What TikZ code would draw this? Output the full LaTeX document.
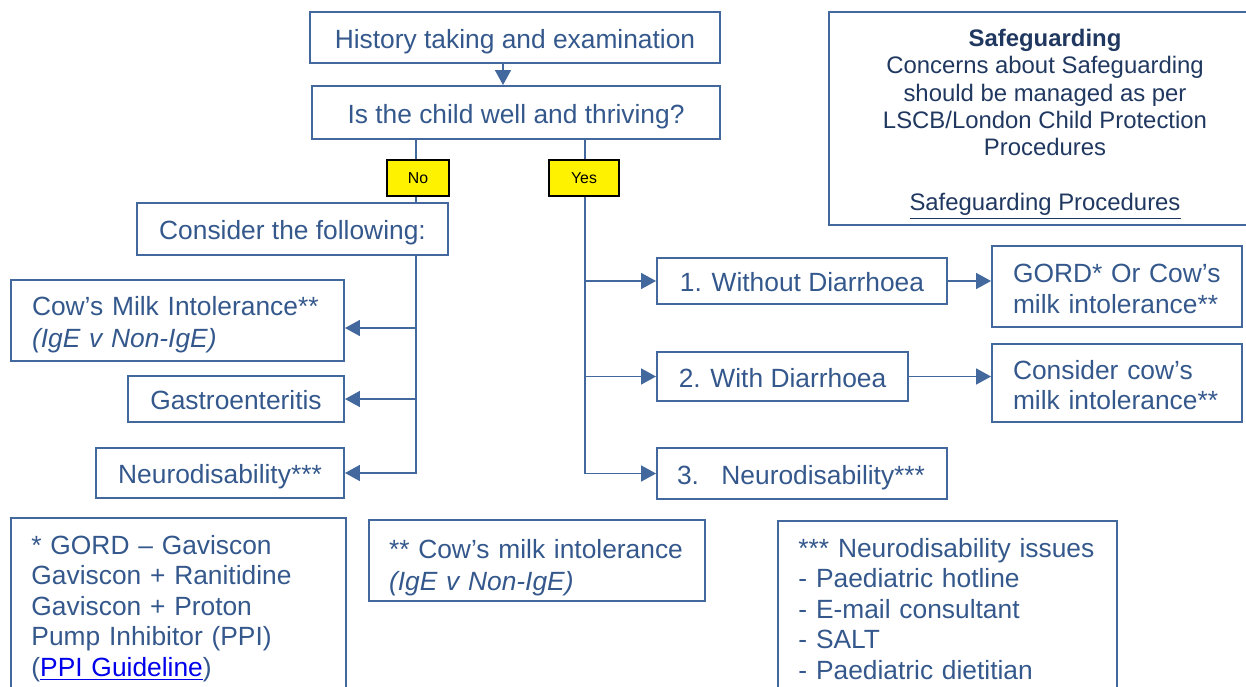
\documentclass[tikz,border=0pt]{standalone}
\usepackage{fontspec}
\setmainfont{Liberation Sans}
\usetikzlibrary{arrows.meta,positioning,calc}
\definecolor{boxblue}{RGB}{66,104,158}
\definecolor{txtblue}{RGB}{52,88,140}
\definecolor{navy}{RGB}{32,56,96}
\definecolor{linkblue}{RGB}{0,0,235}
\newcommand{\topgap}[1]{\rule{0pt}{#1}}
\tikzset{every picture/.style={line width=0.75pt}}

\begin{document}
\begin{tikzpicture}[x=0.02cm,y=-0.02cm,
    box/.style={draw=boxblue,line width=1.1pt,text=txtblue,inner sep=0pt,
      font=\fontsize{15}{17.3}\selectfont},
    one/.style={box,text height=13.5pt,text depth=1.5pt},
    note/.style={box,anchor=north west,align=left,inner xsep=0.41cm,inner ysep=0.35cm},
    tag/.style={draw=black,fill=yellow,line width=1pt,inner sep=0pt,minimum height=0.72cm,
      font=\fontsize{9}{10}\selectfont},
    arr/.style={draw=boxblue,line width=1.1pt,-{Triangle[length=8.5pt,width=9pt]}},
    link/.style={draw=boxblue,line width=1.1pt}]

    \useasboundingbox (0,0) rectangle (1246,686);
    \clip (0,0) rectangle (1246,686);

    % Top of the chart
    \node[one,minimum width=8.2cm,minimum height=1.02cm] (hist) at (515,37.5) {History taking and examination};
    \node[one,minimum width=8.16cm,minimum height=1.06cm] (well) at (516,112.5) {Is the child well and thriving?};
    \node[tag,minimum width=1.24cm] (no) at (418,178) {No};
    \node[tag,minimum width=1.4cm] (yes) at (584,178) {Yes};

    % Left branch
    \node[one,minimum width=6.22cm,minimum height=1.04cm] (cons) at (292.5,229) {Consider the following:};
    \node[box,minimum width=6.66cm,minimum height=1.62cm,text width=5.82cm,align=left,
      font=\fontsize{15}{18}\selectfont] (cow) at (177.5,320.5)
      {\topgap{15.5pt}Cow’s Milk Intolerance**\\\textit{(IgE v Non-IgE)}};
    \node[one,minimum width=4.32cm,minimum height=0.92cm] (gastro) at (236,399) {Gastroenteritis};
    \node[one,minimum width=4.96cm,minimum height=1.0cm] (neuroL) at (220,473) {Neurodisability***};

    % Right branch
    \node[one,minimum width=5.8cm,minimum height=0.92cm] (wo) at (802,281) {1. Without Diarrhoea};
    \node[one,minimum width=5.02cm,minimum height=0.98cm] (wi) at (782.5,376.5) {2. With Diarrhoea};
    \node[one,minimum width=5.8cm,minimum height=1.02cm,text width=5.0cm,align=left] (neuroR) at (802,473.5)
      {3.\hspace{0.85em}Neurodisability***};
    \node[box,minimum width=5.0cm,minimum height=1.62cm,text width=4.16cm,align=left] (gord) at (1117,286.5)
      {\topgap{13.4pt}GORD* Or Cow’s\\milk intolerance**};
    \node[box,minimum width=5.0cm,minimum height=1.56cm,text width=4.16cm,align=left] (ccow) at (1117,383)
      {\topgap{13.4pt}Consider cow’s\\milk intolerance**};

    % Safeguarding
    \node[box,text=navy,minimum width=8.64cm,minimum height=4.26cm,align=center,
      font=\fontsize{13.6}{15.6}\selectfont] (safe) at (1045,118.5)
      {\topgap{16.2pt}\textbf{Safeguarding}\\Concerns about Safeguarding\\should be managed as per\\
       LSCB/London Child Protection\\Procedures\\[15.6pt]\underline{Safeguarding Procedures}};

    % Footnotes
    \node[note,text width=5.88cm] (fn1) at (10,517)
      {* GORD – Gaviscon\\Gaviscon + Ranitidine\\Gaviscon + Proton\\Pump Inhibitor (PPI)\\
       ({\color{linkblue}\underline{PPI Guideline}})};
    \node[box,minimum width=6.72cm,minimum height=1.62cm,text width=5.92cm,align=left,
      font=\fontsize{15}{18}\selectfont] (fn2) at (537,560.5)
      {\topgap{18.8pt}** Cow’s milk intolerance\\\textit{(IgE v Non-IgE)}};
    \node[note,text width=5.96cm] (fn3) at (777,520)
      {*** Neurodisability issues\\- Paediatric hotline\\- E-mail consultant\\- SALT\\- Paediatric dietitian};

    % Connectors
    \coordinate (hqX) at (503,0);
    \coordinate (noX) at (416,0);
    \coordinate (yesX) at (585,0);
    \coordinate (cowin) at ($(cow.east)+(0,7.5)$);
    \draw[arr] (hqX |- hist.south) -- (hqX |- well.north);
    \draw[link] (noX |- well.south) -- (noX |- no.north);
    \draw[link] (noX |- no.south) -- (noX |- cons.north);
    \draw[arr] (noX |- cons.south) |- (neuroL.east);
    \draw[arr] (cowin -| noX) -- (cowin);
    \draw[arr] (noX |- gastro.east) -- (gastro.east);
    \draw[link] (yesX |- well.south) -- (yesX |- yes.north);
    \draw[arr] (yesX |- yes.south) |- (neuroR.west);
    \draw[arr] (yesX |- wo.west) -- (wo.west);
    \draw[arr] (yesX |- wi.west) -- (wi.west);
    \draw[arr] (wo.east) -- (wo.east -| gord.west);
    \draw[arr] (wi.east) -- (wi.east -| ccow.west);
\end{tikzpicture}
\end{document}
